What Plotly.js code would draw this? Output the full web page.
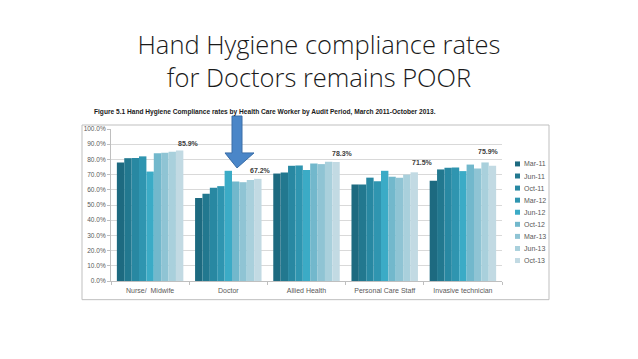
<!DOCTYPE html>
<html>
<head>
<meta charset="utf-8">
<script src="https://cdn.plot.ly/plotly-3.0.1.min.js"></script>
<style>html,body{margin:0;padding:0;background:#fff;}#chart{width:638px;height:359px;}</style>
</head>
<body>
<div id="chart"></div>
<script>
// ---- data ----
const categories = ["Nurse/  Midwife", "Doctor", "Allied Health", "Personal Care Staff", "Invasive technician"];
const periods = ["Mar-11", "Jun-11", "Oct-11", "Mar-12", "Jun-12", "Oct-12", "Mar-13", "Jun-13", "Oct-13"];
// values per period (one entry per category)
const mar11 = [78.0, 54.6, 70.7, 63.5, 66.0];
const jun11 = [80.8, 57.4, 71.4, 63.5, 73.4];
const oct11 = [81.0, 61.3, 75.8, 68.0, 74.5];
const mar12 = [82.0, 62.4, 76.0, 65.7, 74.7];
const jun12 = [72.0, 72.5, 73.0, 72.5, 72.3];
const oct12 = [84.0, 65.5, 77.3, 68.6, 76.6];
const mar13 = [84.3, 65.0, 76.9, 68.0, 74.0];
const jun13 = [85.0, 66.4, 78.4, 70.0, 78.0];
const oct13 = [85.9, 67.2, 78.3, 71.5, 75.9];
const seriesValues = [mar11, jun11, oct11, mar12, jun12, oct12, mar13, jun13, oct13];
const labelTexts = ["85.9%", "67.2%", "78.3%", "71.5%", "75.9%"];
const yTicks = [0, 10, 20, 30, 40, 50, 60, 70, 80, 90, 100];

// ---- style ----
const colors = ["#1d6a80", "#22788f", "#2888a2", "#2f95b0", "#3babc6", "#72b8cc", "#8fc4d4", "#a9d0dc", "#c2dae3"];
const W = 638, H = 359;
const PL = 111, PR = 502, PT = 129, PB = 281.3;
const px = x => (x - PL) / (PR - PL);
const py = y => (PB - y) / (PB - PT);

const traces = periods.map((p, i) => ({
  type: "bar",
  name: p,
  x: categories,
  y: seriesValues[i],
  marker: {color: colors[i], line: {width: 0}},
  hoverinfo: "x+y+name"
}));

const labelShift = [[38, 7], [32, 8], [36, 8], [38, 10], [26, 14]];
const annotations = labelTexts.map((t, k) => ({
  x: categories[k], y: oct13[k], xref: "x", yref: "y",
  text: "<b>" + t + "</b>", showarrow: false,
  xshift: labelShift[k][0], yshift: labelShift[k][1],
  font: {family: "Liberation Sans", size: 7, color: "#404040"}
}));
annotations.push({
  xref: "paper", yref: "paper", x: px(92), y: py(112), xanchor: "left", yanchor: "middle",
  text: "<b>Figure 5.1 Hand Hygiene Compliance rates by Health Care Worker by Audit Period, March 2011-October 2013.</b>",
  showarrow: false, font: {family: "Liberation Sans", size: 6.6, color: "#1a1a1a"}
});

// arrow geometry (pixels)
const ax = [232, 242, 242, 254, 237, 225, 232, 232];
const ay = [116, 116, 153, 153, 168, 153, 153, 116];
let arrowPath = "M" + ax.map((v, i) => px(v) + "," + py(ay[i])).join(" L") + " Z";

const shapes = [
  {type: "rect", xref: "paper", yref: "paper", x0: px(82), x1: px(549), y0: py(300), y1: py(125),
   line: {color: "#bfbfbf", width: 1}, fillcolor: "rgba(0,0,0,0)", layer: "below"},
  {type: "path", xref: "paper", yref: "paper", path: arrowPath,
   fillcolor: "#4a86c8", line: {color: "#3a6ea8", width: 1}}
];

// manual legend (built from periods / colors)
const legX = 515, legY0 = 164, legStep = 12.1;
periods.forEach((p, i) => {
  const cy = legY0 + legStep * i;
  shapes.push({type: "rect", xref: "paper", yref: "paper",
    x0: px(legX), x1: px(legX + 5), y0: py(cy + 2.5), y1: py(cy - 2.5),
    fillcolor: colors[i], line: {width: 0}});
  annotations.push({xref: "paper", yref: "paper", x: px(legX + 6.5), y: py(cy),
    xanchor: "left", yanchor: "middle", showarrow: false, text: p,
    font: {family: "Liberation Sans", size: 7, color: "#595959"}});
});

const layout = {
  width: W, height: H,
  margin: {l: PL, r: W - PR, t: PT, b: H - PB, pad: 0},
  paper_bgcolor: "#ffffff", plot_bgcolor: "#ffffff",
  barmode: "group", bargap: 0.15, bargroupgap: 0,
  title: {
    text: "Hand Hygiene compliance rates<br>for Doctors remains POOR",
    xref: "container", yref: "container", x: 0.5, y: 1 - 54 / H, xanchor: "center", yanchor: "middle",
    font: {family: "Open Sans", size: 25.5, color: "#1a1a1a", weight: 300}
  },
  xaxis: {
    type: "category", showgrid: false, zeroline: false,
    showline: true, linecolor: "#bfbfbf", linewidth: 1,
    ticks: "outside", ticklen: 3, tickcolor: "#bfbfbf", tickson: "boundaries",
    ticklabelstandoff: 3,
    tickfont: {family: "Liberation Sans", size: 7, color: "#595959"}
  },
  yaxis: {
    range: [0, 100], tickvals: yTicks, ticktext: yTicks.map(v => v.toFixed(1) + "%"),
    showgrid: true, gridcolor: "#d9d9d9", gridwidth: 1, zeroline: false,
    showline: true, linecolor: "#bfbfbf", linewidth: 1,
    ticks: "outside", ticklen: 3, tickcolor: "#bfbfbf",
    tickfont: {family: "Liberation Sans", size: 6.5, color: "#595959"}
  },
  showlegend: false,
  annotations: annotations,
  shapes: shapes
};

Plotly.newPlot("chart", traces, layout, {displayModeBar: false, staticPlot: true});
</script>
</body>
</html>
